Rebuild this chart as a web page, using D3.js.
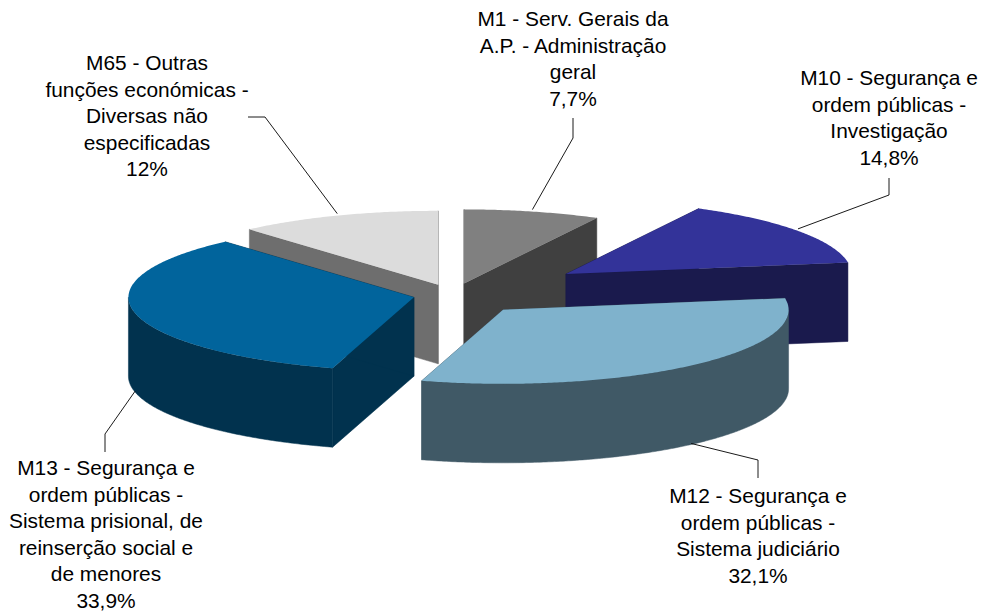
<!DOCTYPE html>
<html><head><meta charset="utf-8">
<script src="https://cdnjs.cloudflare.com/ajax/libs/d3/7.8.5/d3.min.js"></script>
<style>html,body{margin:0;background:#fff}svg{display:block}</style>
</head><body><div id="chart"></div>
<script>
// Data
const categories = ["M1", "M10", "M12", "M13", "M65"];
const values = [7.7, 14.8, 32.1, 33.9, 11.5];
const labelLines = [
  ["M1 - Serv. Gerais da", "A.P. - Administração", "geral", "7,7%"],
  ["M10 - Segurança e", "ordem públicas -", "Investigação", "14,8%"],
  ["M12 - Segurança e", "ordem públicas -", "Sistema judiciário", "32,1%"],
  ["M13 - Segurança e", "ordem públicas -", "Sistema prisional, de", "reinserção social e", "de menores", "33,9%"],
  ["M65 - Outras", "funções económicas -", "Diversas não", "especificadas", "12%"]
];
const topColors = ["#808080", "#333399", "#7fb2cc", "#01649c", "#dcdcdc"];

// Layout (pixels)
const W = 982, H = 613;
const cx = 453, cy = 295, rx = 285.5, ry = 74, depth = 79;
const explode = {M1: 46, M10: 139, M12: 76, M13: 40, M65: 42};
const paintOrder = ["M65", "M1", "M10", "M13", "M12"];
const labelBox = {
  M1:  {x: 573, y: 26},
  M10: {x: 889, y: 85},
  M12: {x: 758, y: 503},
  M13: {x: 106, y: 475},
  M65: {x: 147, y: 70}
};
const leaderElbow = {
  M1:  [[573, 138], [573, 118]],
  M10: [[889, 195], [889, 178]],
  M12: [[758, 460], [758, 478]],
  M13: [[105, 434], [105, 452]],
  M65: [[265, 117], [248, 117]]
};
const lineHeight = 26.6;

const svg = d3.select("#chart").append("svg").attr("width", W).attr("height", H);
svg.append("defs").append("clipPath").attr("id", "m65clip")
   .append("rect").attr("x", 0).attr("y", 0).attr("width", 250).attr("height", H);

const pie = d3.pie().sort(null).value(d => d.value);
const slices = pie(categories.map((c, i) => ({id: c, value: values[i], color: topColors[i], lines: labelLines[i]})));

const sx = d3.scaleLinear().domain([-1, 1]).range([-rx, rx]);
const sy = d3.scaleLinear().domain([-1, 1]).range([ry, -ry]);
const line = d3.line();

function apex(s) {
  const mid = (s.startAngle + s.endAngle) / 2, e = explode[s.data.id];
  return [cx + e * Math.sin(mid), cy - e * (ry / rx) * Math.cos(mid)];
}
function rim(s, a, z) {
  const [ax, ay] = apex(s);
  return [ax + sx(Math.sin(a)), ay + sy(Math.cos(a)) + z];
}
function arcPts(s, a0, a1, z) {
  const n = Math.max(1, Math.ceil(Math.abs(a1 - a0) / 0.01));
  return d3.range(n + 1).map(i => rim(s, a0 + (a1 - a0) * i / n, z));
}

const order = paintOrder.map(id => slices.find(s => s.data.id === id));
const g = svg.selectAll("g.slice").data(order).join("g").attr("class", "slice");

g.each(function (s) {
  const el = d3.select(this);
  const top = d3.rgb(s.data.color);
  const side = d3.rgb(top.r / 2, top.g / 2, top.b / 2).formatHex();
  const [ax, ay] = apex(s);
  const walls = [
    [[ax, ay], rim(s, s.startAngle, 0), rim(s, s.startAngle, depth), [ax, ay + depth]],
    [[ax, ay], rim(s, s.endAngle, 0), rim(s, s.endAngle, depth), [ax, ay + depth]]
  ];
  // Only the part of the rim that faces the viewer is visible
  const f0 = Math.max(s.startAngle, Math.PI / 2), f1 = Math.min(s.endAngle, 3 * Math.PI / 2);
  if (f1 > f0) walls.push([...arcPts(s, f0, f1, 0), ...arcPts(s, f1, f0, depth)]);
  el.selectAll("path.wall").data(walls).join("path").attr("class", "wall")
    .attr("d", d => line(d) + "Z").attr("fill", side).attr("stroke", side).attr("stroke-width", 0.5);
  el.append("path").attr("class", "top")
    .attr("d", line([[ax, ay], ...arcPts(s, s.startAngle, s.endAngle, 0)]) + "Z").attr("fill", top.formatHex());
});

// Leaders
svg.selectAll("path.leader").data(slices).join("path").attr("class", "leader")
  .attr("d", s => {
    const mid = (s.startAngle + s.endAngle) / 2;
    const front = Math.cos(mid) < 0;
    return line([rim(s, mid, front ? depth - 1 : -2), ...leaderElbow[s.data.id]]);
  })
  .attr("fill", "none").attr("stroke", "#000").attr("stroke-width", 0.9);

// Labels
const labels = svg.selectAll("text.label").data(slices).join("text").attr("class", "label")
  .attr("text-anchor", "middle")
  .attr("font-family", "'Liberation Sans', Arial, sans-serif")
  .attr("font-size", 20.9).attr("fill", "#000")
  .attr("clip-path", s => s.data.id === "M65" ? "url(#m65clip)" : null);
labels.selectAll("tspan").data(s => s.data.lines.map((t, i) => ({t, i, s}))).join("tspan")
  .attr("x", d => labelBox[d.s.data.id].x)
  .attr("y", d => labelBox[d.s.data.id].y + d.i * lineHeight)
  .text(d => d.t);
</script></body></html>
